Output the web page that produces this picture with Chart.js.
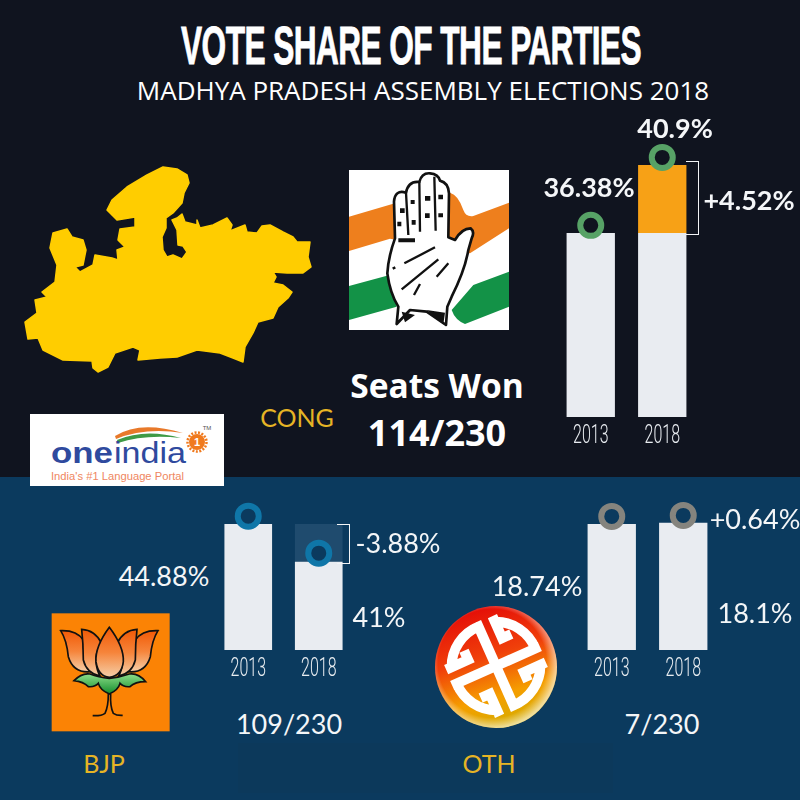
<!DOCTYPE html>
<html>
<head>
<meta charset="utf-8">
<script src="https://cdn.jsdelivr.net/npm/chart.js@4"></script>
<style>
  html, body { margin: 0; padding: 0; background: #10141f; }
  #page { position: relative; width: 800px; height: 800px; overflow: hidden; background: #10141f; font-family: Lato, sans-serif; color: #fff; }
  #lower { position: absolute; left: 0; top: 477px; width: 800px; height: 323px; background: #0b3a5e; }
  #art { position: absolute; left: 0; top: 0; }
  canvas { position: absolute; }
  .t { position: absolute; transform: translate(-50%, -50%); white-space: nowrap; }
  .val { font-size: 27px; color: #f4f6f8; }
  .big { font-size: 27px; font-weight: 700; color: #f4f6f8; }
  .seat { font-family: "Open Sans", sans-serif; font-weight: 700; font-size: 33.5px; }
  .party { font-size: 25px; color: #e6b425; }
  .bracket { position: absolute; border: 1.5px solid #f2f4f6; border-left: none; box-sizing: border-box; }
</style>
</head>
<body>
<div id="page">
  <div id="lower"></div>

  <svg id="art" width="800" height="800" viewBox="0 0 800 800">
    <defs>
      <linearGradient id="petal" x1="0" y1="0" x2="0" y2="1">
        <stop offset="0" stop-color="#f15a06"/><stop offset="0.5" stop-color="#f6843a"/><stop offset="1" stop-color="#f5cfa8"/>
      </linearGradient>
      <linearGradient id="leaf" x1="0" y1="0" x2="0" y2="1">
        <stop offset="0" stop-color="#8ede8a"/><stop offset="1" stop-color="#138c2c"/>
      </linearGradient>
      <linearGradient id="othBase" x1="0.35" y1="0" x2="0.65" y2="1">
        <stop offset="0" stop-color="#e40c08"/><stop offset="0.4" stop-color="#f0400a"/><stop offset="0.72" stop-color="#f59e00"/><stop offset="1" stop-color="#d2ae00"/>
      </linearGradient>
      <radialGradient id="othRim" cx="0.47" cy="0.47" r="0.53">
        <stop offset="0.84" stop-color="#ffffff" stop-opacity="0"/><stop offset="1" stop-color="#ffffff" stop-opacity="0.6"/>
      </radialGradient>
    </defs>

    <!-- faint panel behind the bottom labels -->
    <rect x="238" y="743" width="375" height="50" fill="#0c395b"/>

    <!-- state outline -->
    <polygon fill="#ffcd00" stroke="#ffcd00" stroke-width="1.5" stroke-linejoin="round" points="163,167 177,169 187,175 189,183 184,193 182,203 173,213 166,218 166,228 162,237 163,250 167,257 173,255 182,259 187,252 183,246 178,245 177,230 172,220 177,218 182,214 185,222 197,225 197,220 200,228 213,225 227,218 232,225 230,231 245,225 247,232 257,233 262,226 270,225 283,232 293,237 297,242 310,242 308,257 311,267 303,273 287,273 273,272 276,277 273,283 283,285 292,292 288,298 278,307 273,318 258,322 253,333 245,347 243,362 233,358 220,353 197,350 177,357 160,358 138,360 140,350 133,347 115,353 108,367 98,372 93,368 92,361 63,360 43,350 38,338 28,339 25,322 37,313 35,300 47,297 42,292 55,282 57,265 50,248 53,233 67,229 72,237 83,240 86,250 83,265 75,267 80,272 93,265 95,255 112,258 118,260 117,250 125,247 118,240 120,229 135,227 135,217 117,220 107,210 112,200 127,187 147,175"/>

    <!-- hand logo -->
    <g transform="translate(340,160) scale(0.33333)">
      <rect x="27" y="30" width="480" height="480" fill="#ffffff"/>
      <path fill="#ee7f1d" d="M27 170 L180 125 L330 98 Q355 105 370 150 Q378 172 400 168 L507 128 L507 205 L390 280 L150 236 L27 273 Z"/>
      <path fill="#139247" d="M27 378 L160 342 L170 440 L27 480 Z M400 375 L507 335 L507 440 L375 492 Q345 480 335 450 Z"/>
      <path fill="#ffffff" stroke="#111" stroke-width="8" stroke-linejoin="round" d="M170 492 L175 440 Q150 400 142 340 Q145 290 165 235 L162 125 Q165 88 198 98 Q205 62 238 66 Q245 38 270 40 Q295 42 300 62 Q325 68 327 100 L325 232 L345 240 Q365 205 392 205 Q405 215 395 235 L385 270 Q375 330 335 410 L322 440 L318 495 L260 455 L210 450 Z"/>
      <path fill="none" stroke="#111" stroke-width="7" d="M198 98 L205 225 M238 66 L240 215 M283 50 L287 212 M193 310 L285 262 M185 388 L295 298 M222 405 L240 372 M290 350 L325 310 M158 326 L166 322"/>
      <path fill="#111" d="M180 145 h14 v14 h-14z M172 185 h12 v14 h-12z M212 120 h12 v12 h-12z M215 180 h12 v14 h-12z M255 108 h16 v14 h-16z M255 160 h14 v14 h-14z M295 104 h14 v14 h-14z M295 160 h14 v12 h-14z M175 235 h50 v12 h-50z M185 455 l40 10 l-30 22z M260 450 l55 8 l-5 35z"/>
    </g>

    <!-- language portal logo -->
    <rect x="30" y="414" width="194" height="72" fill="#ffffff"/>
    <path d="M115 436 Q140 420 183 433 Q145 427 116 439 Z" fill="#e8792a"/>
    <path d="M117 440 Q145 428 181 438 Q145 434 118 443 Z" fill="#3f9a45"/>
    <text x="51" y="463" font-family="Liberation Sans, sans-serif" font-size="30" font-weight="700" fill="#2f4a9e" textLength="62" lengthAdjust="spacingAndGlyphs">one</text>
    <text x="114" y="463" font-family="Liberation Sans, sans-serif" font-size="30" fill="#2f4a9e" textLength="72" lengthAdjust="spacingAndGlyphs">india</text>
    <circle cx="197" cy="442" r="8" fill="#f07a1e"/>
    <circle cx="197" cy="442" r="9.5" fill="none" stroke="#f07a1e" stroke-width="2.5" stroke-dasharray="2 1.5"/>
    <text x="197" y="446" text-anchor="middle" font-family="Liberation Sans, sans-serif" font-size="11" font-weight="700" fill="#ffffff">1</text>
    <text x="207" y="430" text-anchor="middle" font-family="Liberation Sans, sans-serif" font-size="6" fill="#555">TM</text>
    <text x="51" y="479.5" font-family="Liberation Sans, sans-serif" font-size="10.5" fill="#ef8660" textLength="133" lengthAdjust="spacingAndGlyphs">India's #1 Language Portal</text>

    <!-- lotus logo -->
    <g transform="translate(20,600) scale(0.33333)">
      <rect x="95" y="40" width="354" height="354" fill="#fb8305"/>
      <g stroke="#111" stroke-width="5" fill="url(#petal)">
        <path d="M122 92 Q170 90 190 120 Q188 170 212 215 Q160 220 145 170 Q140 120 122 92 Z"/>
        <path transform="translate(536,0) scale(-1,1)" d="M122 92 Q170 90 190 120 Q188 170 212 215 Q160 220 145 170 Q140 120 122 92 Z"/>
        <path d="M185 88 Q225 90 245 130 Q225 160 228 185 Q230 210 240 228 Q200 220 190 180 Q190 130 185 88 Z"/>
        <path transform="translate(536,0) scale(-1,1)" d="M185 88 Q225 90 245 130 Q225 160 228 185 Q230 210 240 228 Q200 220 190 180 Q190 130 185 88 Z"/>
        <path d="M268 82 Q225 140 228 185 Q235 230 268 232 Q305 228 310 185 Q312 140 268 82 Z"/>
        <path fill="url(#leaf)" d="M162 242 Q185 218 210 222 Q235 232 268 235 Q300 232 328 222 Q355 218 377 245 Q345 245 330 260 Q310 262 300 250 Q295 270 268 282 Q240 270 235 250 Q225 262 205 260 Q190 245 162 242 Z"/>
        <path fill="none" d="M265 282 Q265 320 255 340 Q245 348 218 347 M272 282 Q270 320 280 340 Q290 347 308 346"/>
      </g>
    </g>

    <!-- others logo -->
    <circle cx="496" cy="667" r="61" fill="url(#othBase)"/>
    <circle cx="496" cy="667" r="61" fill="url(#othRim)"/>
    <g transform="translate(496,666) rotate(-24)" fill="none" stroke="#ffffff" stroke-width="10" stroke-linejoin="miter">
      <g id="arm"><path d="M0 0 L0 -48 M0 -43 A43 43 0 0 0 -41 -17 M-47 -17 L-23 -17 L-23 -27"/></g>
      <use href="#arm" transform="rotate(90)"/>
      <use href="#arm" transform="rotate(180)"/>
      <use href="#arm" transform="rotate(270)"/>
    </g>
  </svg>

  <canvas id="congChart" style="left:555px;top:130px" width="143" height="330"></canvas>
  <canvas id="bjpChart" style="left:213px;top:490px" width="141" height="205"></canvas>
  <canvas id="othChart" style="left:576px;top:490px" width="143" height="205"></canvas>

  <div class="bracket" style="left:686px;top:161px;width:13px;height:74px"></div>
  <div class="bracket" style="left:337px;top:524px;width:13px;height:40px"></div>

  <div class="t" style="left:410.5px;top:45px;transform:translate(-50%,-50%) scaleX(0.598);font-family:'Liberation Sans',sans-serif;font-weight:700;font-size:53px;letter-spacing:-1px;-webkit-text-stroke:0.8px #fff">VOTE SHARE OF THE PARTIES</div>
  <div class="t" style="left:423px;top:90px;font-family:'Open Sans',sans-serif;font-size:26px">MADHYA PRADESH ASSEMBLY ELECTIONS 2018</div>

  <div class="t big" style="left:675px;top:127px">40.9%</div>
  <div class="t big" style="left:589px;top:186px">36.38%</div>
  <div class="t big" style="left:749px;top:199px">+4.52%</div>
  <div class="t seat" style="left:437px;top:385px">Seats Won</div>
  <div class="t seat" style="left:437px;top:432px;font-size:36px">114/230</div>
  <div class="t party" style="left:297px;top:417px">CONG</div>

  <div class="t val" style="left:164px;top:575px">44.88%</div>
  <div class="t val" style="left:398px;top:542px">-3.88%</div>
  <div class="t val" style="left:379px;top:616px">41%</div>
  <div class="t val" style="left:289px;top:723px">109/230</div>
  <div class="t party" style="left:104px;top:763px">BJP</div>

  <div class="t val" style="left:537px;top:585px">18.74%</div>
  <div class="t val" style="left:755px;top:518px">+0.64%</div>
  <div class="t val" style="left:755px;top:612px">18.1%</div>
  <div class="t val" style="left:662px;top:723px">7/230</div>
  <div class="t party" style="left:489px;top:763px">OTH</div>
</div>

<script>
// --- Data ---
const years = ['2013', '2018'];

const congBase = [36.38, 36.38];
const congGain = [0, 4.52];
const congRings = [36.89, 41.41]; // rings sit just above the bar tops

const bjpBase = [44.88, 41];
const bjpLoss = [0, 3.88];
const bjpRings = [45.67, 41.89];

// the 2018 OTH bar is drawn a touch taller than 2013 in the picture, whatever its 18.1% label says
const othBars = [18.74, 18.93];
const othRings = [19.88, 20.03];

const WHITE_BAR = '#e9ecf1';
const TICK_COLOR = '#e8ecf0';

// No condensed font is installed, so squeeze the year labels by hand
const condensedTicks = {
    id: 'condensedTicks',
    afterDraw(chart) {
        const ctx = chart.ctx;
        const xScale = chart.scales.x;
        xScale.ticks.forEach((tick, i) => {
            ctx.save();
            ctx.translate(xScale.getPixelForTick(i), chart.chartArea.bottom + 20);
            ctx.scale(0.64, 1);
            ctx.font = "300 25px Roboto, sans-serif";
            ctx.fillStyle = TICK_COLOR;
            ctx.textAlign = 'center';
            ctx.textBaseline = 'middle';
            ctx.fillText(tick.label, 0, 0);
            ctx.restore();
        });
    }
};

// Small bar + ring chart, the axis is truncated the way the picture is
function makeChart(id, barSets, rings, ringColor, ringFill, yMin, yMax, axisHeight) {
    const datasets = barSets.map(set => ({
        type: 'bar',
        data: set.values,
        backgroundColor: set.color,
        borderWidth: 0,
        barPercentage: 0.676,
        categoryPercentage: 1,
        order: 2
    }));
    datasets.push({
        type: 'line',
        data: rings,
        showLine: false,
        clip: false,
        pointStyle: 'circle',
        pointRadius: 10.5,
        pointBorderWidth: 6,
        pointBorderColor: ringColor,
        pointBackgroundColor: ringFill,
        order: 1
    });

    return new Chart(document.getElementById(id), {
        type: 'bar',
        data: { labels: years, datasets: datasets },
        plugins: [condensedTicks],
        options: {
            responsive: false,
            animation: false,
            events: [],
            layout: { padding: 0, autoPadding: false },
            plugins: { legend: { display: false }, tooltip: { enabled: false } },
            scales: {
                x: {
                    stacked: true,
                    grid: { display: false },
                    border: { display: false },
                    afterFit: scale => { scale.height = axisHeight; },
                    ticks: { display: false }
                },
                y: { stacked: true, display: false, min: yMin, max: yMax }
            }
        }
    });
}

makeChart('congChart',
    [{ values: congBase, color: WHITE_BAR }, { values: congGain, color: '#f7a116' }],
    congRings, '#57a266', '#10141f', 24.15, 43.23, 43);

makeChart('bjpChart',
    [{ values: bjpBase, color: WHITE_BAR }, { values: bjpLoss, color: '#1f4b6e' }],
    bjpRings, '#0f76a8', '#0b3a5e', 32, 48.34, 45);

makeChart('othChart',
    [{ values: othBars, color: WHITE_BAR }],
    othRings, '#85847e', '#0b3a5e', 0, 23.81, 45);
</script>
</body>
</html>
